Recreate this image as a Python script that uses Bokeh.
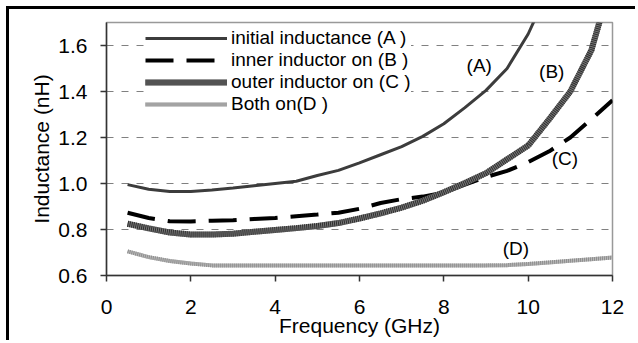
from bokeh.plotting import figure
from bokeh.models import FixedTicker, PrintfTickFormatter, Legend, LegendItem, Range1d, ColumnDataSource
from bokeh.core.properties import value
from bokeh.embed import file_html
from bokeh.resources import INLINE

nan = float("nan")

freq = [0.5, 1.0, 1.5, 2.0, 2.5, 3.0, 3.5, 4.0, 4.5, 5.0, 5.5, 6.0,
        6.5, 7.0, 7.5, 8.0, 8.5, 9.0, 9.5, 10.0, 10.5, 11.0, 11.5, 12.0]

initial_A = [0.995, 0.975, 0.965, 0.965, 0.972, 0.980, 0.990, 1.000, 1.010, 1.035, 1.057, 1.090,
             1.125, 1.160, 1.205, 1.260, 1.330, 1.405, 1.500, 1.650, 1.850, nan, nan, nan]
inner_B = [0.873, 0.850, 0.836, 0.835, 0.838, 0.840, 0.846, 0.850, 0.858, 0.865, 0.873, 0.890,
           0.915, 0.932, 0.943, 0.960, 0.995, 1.028, 1.055, 1.093, 1.140, 1.200, 1.280, 1.362]
outer_C = [0.825, 0.805, 0.787, 0.778, 0.778, 0.782, 0.790, 0.798, 0.806, 0.815, 0.828, 0.848,
           0.870, 0.895, 0.925, 0.962, 1.002, 1.045, 1.105, 1.165, 1.280, 1.400, 1.580, 1.900]
both_D = [0.705, 0.680, 0.663, 0.652, 0.644, 0.643, 0.643, 0.643, 0.643, 0.643, 0.643, 0.643,
          0.643, 0.643, 0.643, 0.643, 0.643, 0.644, 0.645, 0.650, 0.657, 0.664, 0.671, 0.678]

legend_labels = ["initial inductance (A )", "inner inductor on (B )",
                 "outer inductor on (C )", "Both on(D )"]
x_ticks = [0, 2, 4, 6, 8, 10, 12]
y_ticks = [0.6, 0.8, 1.0, 1.2, 1.4, 1.6]
grid_ticks = [0.8, 1.0, 1.2, 1.4, 1.6]

annot_text = ["(A)", "(B)", "(C)", "(D)"]
annot_x = [8.84, 10.56, 10.87, 9.71]
annot_y = [1.513, 1.488, 1.109, 0.716]

FONT = "Liberation Sans"

# canvas starts at (9, 9) inside the page because of the black frame on top/left
p = figure(width=629, height=334, output_backend="svg", toolbar_location=None,
           x_range=Range1d(0, 12), y_range=Range1d(0.6, 1.7),
           min_border_left=97, min_border_right=26, min_border_top=13, min_border_bottom=68)
p.styles = {"margin-left": "6px", "margin-top": "6px",
            "border-left": "3px solid black", "border-top": "3px solid black"}
p.background_fill_color = "white"
p.border_fill_color = "white"
p.outline_line_color = "#999999"
p.outline_line_width = 1.5

src = ColumnDataSource(dict(f=freq, a=initial_A, b=inner_B, c=outer_C, d=both_D))

rA = p.line("f", "a", source=src, line_color="#3c3c3c", line_width=3)
rB = p.line("f", "b", source=src, line_color="black", line_width=4, line_dash="28 13", line_cap="butt")
rC1 = p.line("f", "c", source=src, line_color="#787878", line_width=6, line_cap="butt")
rC2 = p.line("f", "c", source=src, line_color="#2e2e2e", line_width=6, line_dash="1 1", line_cap="butt")
rD1 = p.line("f", "d", source=src, line_color="#b8b8b8", line_width=4, line_cap="butt")
rD2 = p.line("f", "d", source=src, line_color="#8e8e8e", line_width=4, line_dash="1 1", line_cap="butt")

p.text(x=annot_x, y=annot_y, text=annot_text, text_font=value(FONT), text_font_size="19px",
       text_align="center", text_baseline="middle", text_color="black")

# axes
p.xaxis.ticker = FixedTicker(ticks=x_ticks)
p.yaxis.ticker = FixedTicker(ticks=y_ticks)
p.yaxis.formatter = PrintfTickFormatter(format="%.1f")
for ax in (p.xaxis[0], p.yaxis[0]):
    ax.axis_line_color = "#333333"
    ax.axis_line_width = 1.5
    ax.major_tick_line_color = "#333333"
    ax.major_tick_line_width = 1.5
    ax.major_tick_out = 6
    ax.major_tick_in = 0
    ax.minor_tick_line_color = None
    ax.major_label_text_font = FONT
    ax.major_label_text_font_size = "21px"
    ax.major_label_text_color = "black"
    ax.axis_label_text_font = FONT
    ax.axis_label_text_font_size = "21px"
    ax.axis_label_text_font_style = "normal"
    ax.axis_label_text_color = "black"
p.xaxis.axis_label = "Frequency (GHz)"
p.yaxis.axis_label = "Inductance (nH)"
p.xaxis.major_label_standoff = 18
p.yaxis.major_label_standoff = 13
p.xaxis.axis_label_standoff = -3
p.yaxis.axis_label_standoff = 2

p.xgrid.grid_line_color = None
p.ygrid.ticker = FixedTicker(ticks=grid_ticks)
p.ygrid.grid_line_color = "#808080"
p.ygrid.grid_line_width = 1
p.ygrid.grid_line_dash = "7 8"

legend = Legend(items=[
    LegendItem(label=legend_labels[0], renderers=[rA]),
    LegendItem(label=legend_labels[1], renderers=[rB]),
    LegendItem(label=legend_labels[2], renderers=[rC1, rC2]),
    LegendItem(label=legend_labels[3], renderers=[rD1, rD2]),
], location=(39, 160))
legend.glyph_width = 82
legend.glyph_height = 18
legend.label_height = 18
legend.label_standoff = 4
legend.spacing = 0
legend.padding = 4
legend.margin = 0
legend.border_line_color = None
legend.background_fill_color = "white"
legend.background_fill_alpha = 1
legend.label_text_font = FONT
legend.label_text_font_size = "19px"
legend.label_text_color = "black"
p.add_layout(legend, "center")

open("out.html", "w").write(file_html(p, INLINE))
